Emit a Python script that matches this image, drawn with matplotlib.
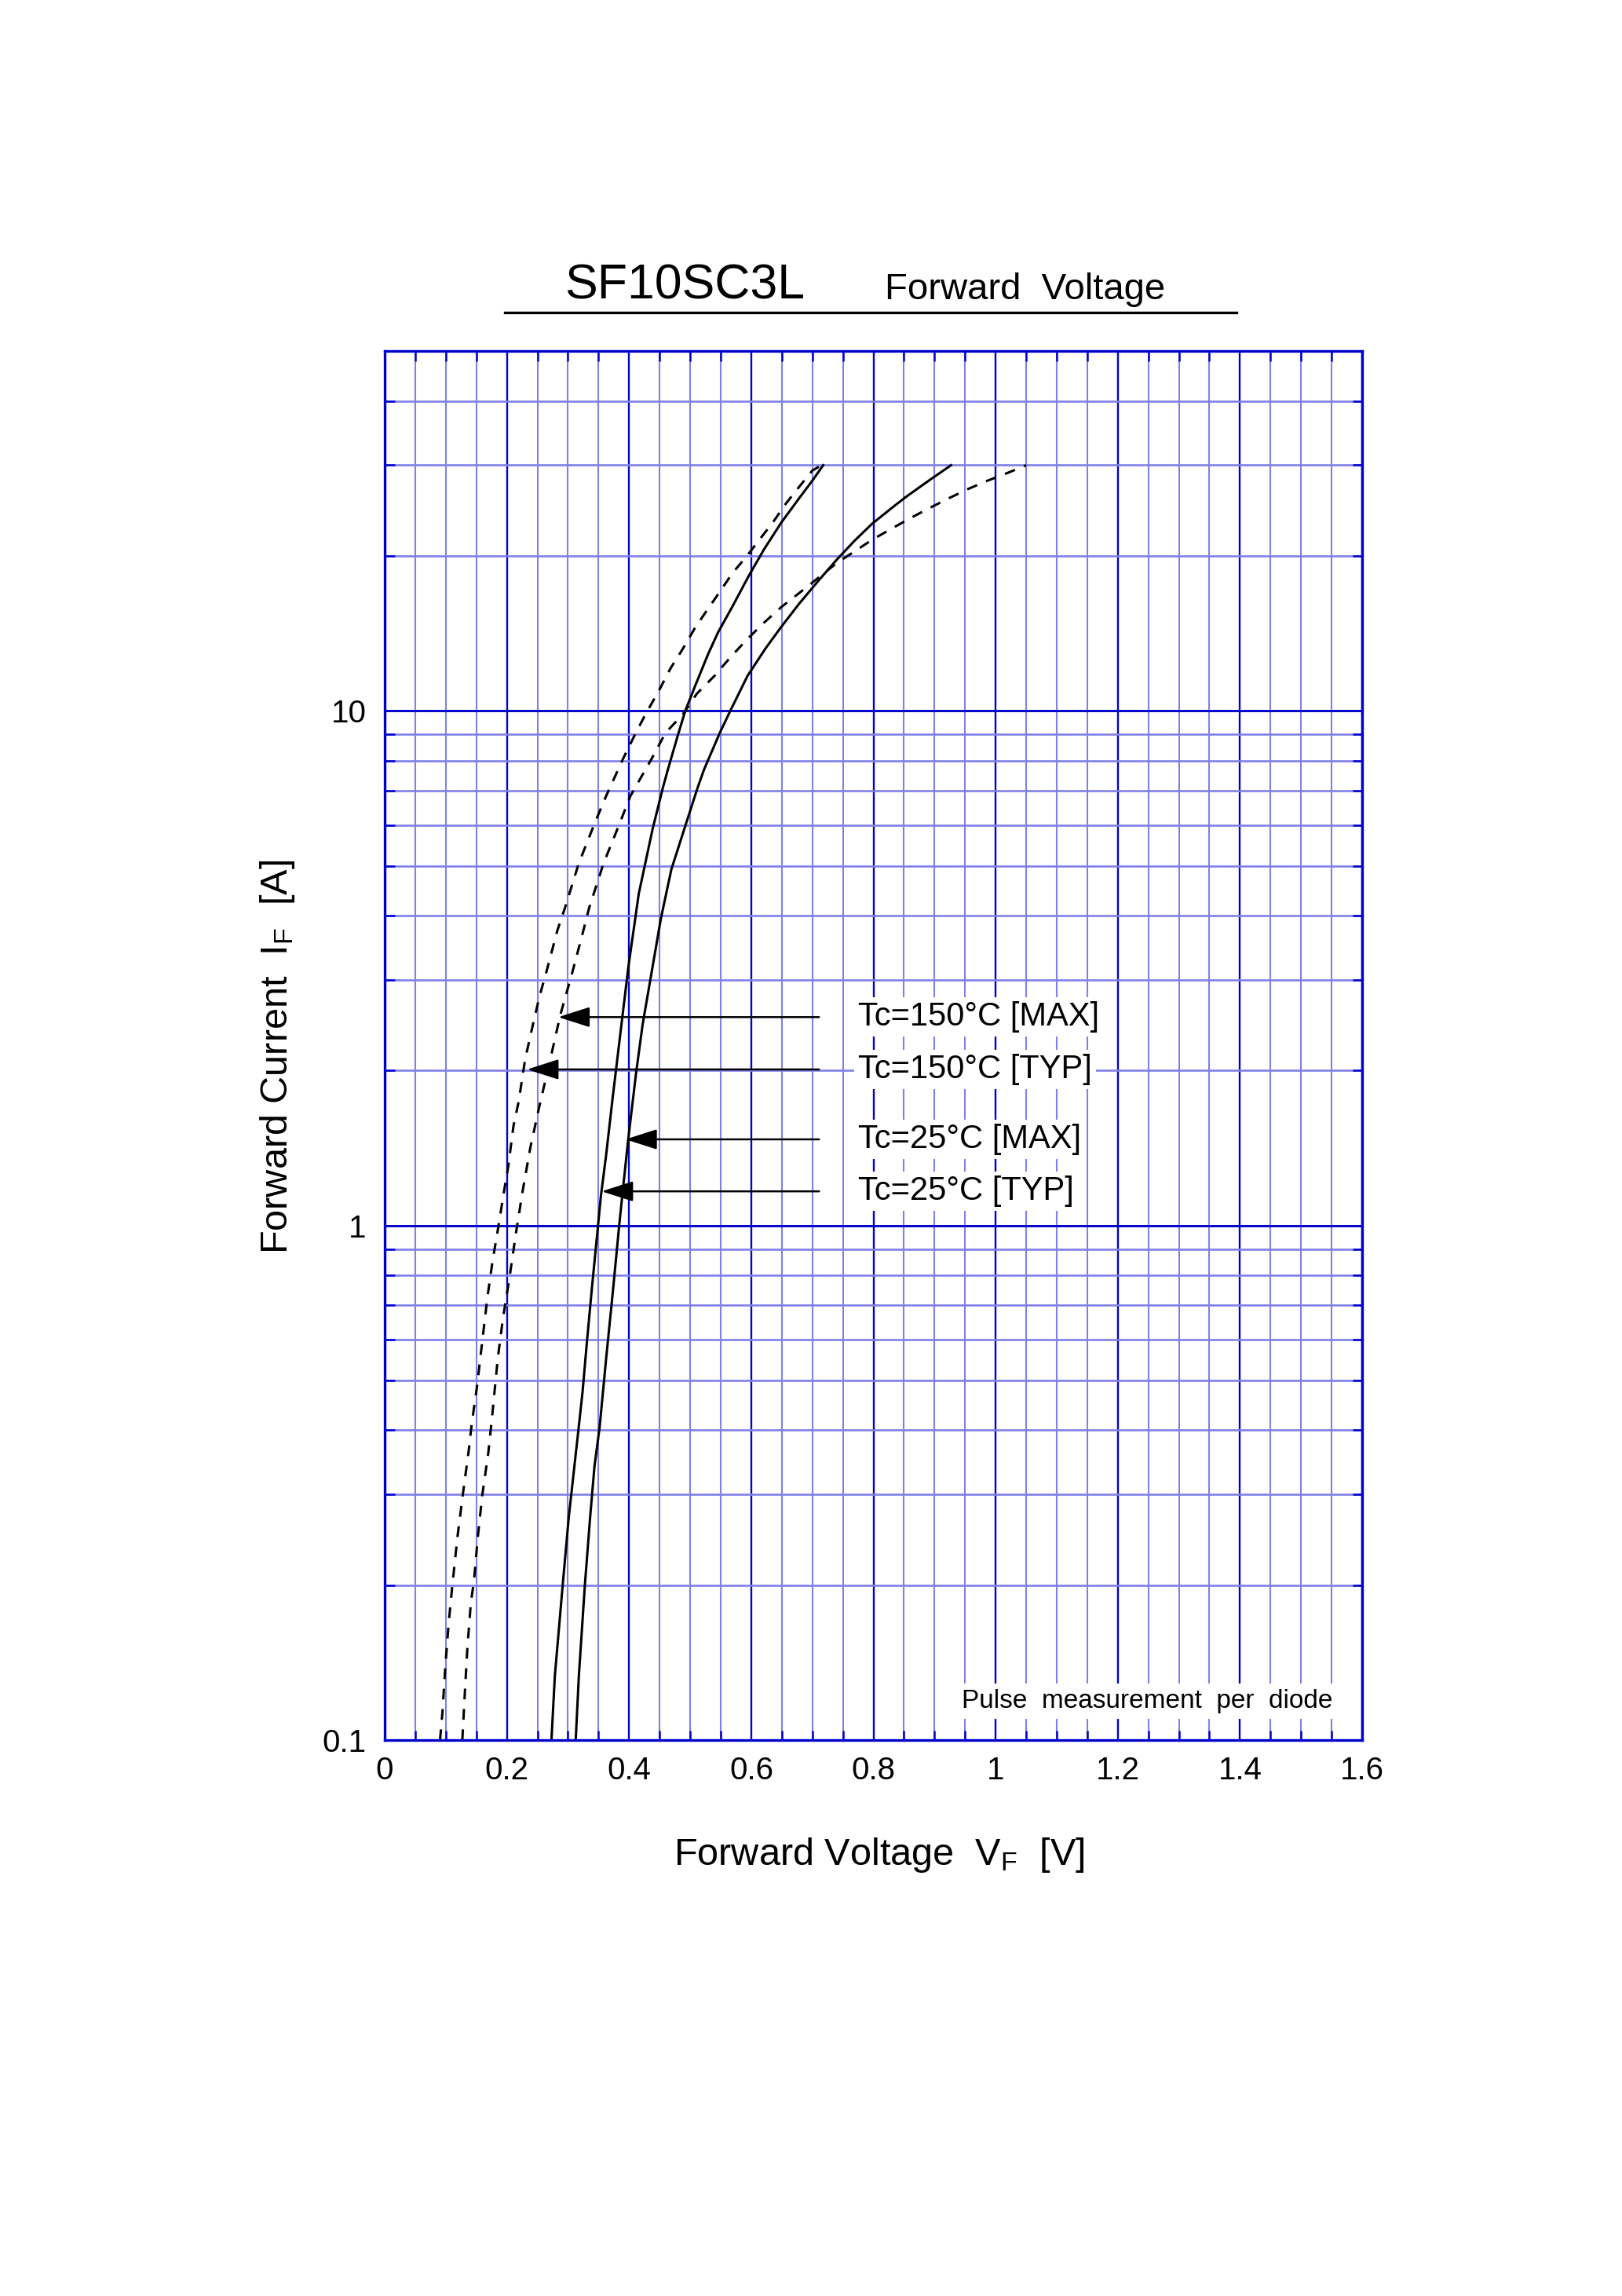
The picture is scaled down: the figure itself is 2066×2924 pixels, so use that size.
import numpy as np
import matplotlib
matplotlib.use("Agg")
import matplotlib.pyplot as plt
from matplotlib.lines import Line2D
from matplotlib.ticker import MultipleLocator, LogLocator, NullFormatter

plt.rcParams["font.family"] = ["Liberation Sans", "DejaVu Sans"]
plt.rcParams["mathtext.default"] = "regular"

DARK = "#0000CC"
LIGHT = "#8080E8"

# Tc=150C TYP (dashed, left)
i_150_typ = [0.1, 0.113, 0.138, 0.169, 0.2, 0.249, 0.3, 0.366, 0.411, 0.485,
             0.592, 0.724, 0.853, 0.978, 1.174, 1.30, 1.56, 1.74, 2.105, 2.46,
             2.79, 3.09, 3.74, 4.14, 5.05, 6.06, 6.83, 8.1, 9.06, 9.9,
             10.9, 12.1, 13.2, 14.5, 15.9, 17.2, 18.5, 19.9, 21.4, 23.2,
             25.3, 27.2, 29.3, 30]
v_150_typ = [0.0905, 0.0944, 0.099, 0.1047, 0.1107, 0.1192, 0.1278, 0.1376, 0.1423, 0.1509,
             0.1594, 0.168, 0.1765, 0.185, 0.1957, 0.2021, 0.2107, 0.2192, 0.2299, 0.2427,
             0.2534, 0.264, 0.2825, 0.295, 0.3175, 0.344, 0.3624, 0.3908, 0.411, 0.428,
             0.448, 0.468, 0.488, 0.508, 0.531, 0.551, 0.569, 0.5915, 0.612, 0.635,
             0.657, 0.678, 0.700, 0.715]

# Tc=150C MAX (dashed, right)
i_150_max = [0.1, 0.124, 0.152, 0.185, 0.204, 0.249, 0.3, 0.362, 0.434, 0.551,
             0.661, 0.793, 0.97, 1.164, 1.42, 1.71, 2.09, 2.57, 3.03, 3.61,
             4.14, 5.05, 6.01, 6.83, 8.06, 9.06, 9.84, 10.8, 11.7, 12.7,
             13.8, 14.8, 15.9, 16.9, 18.1, 19.4, 20.4, 21.5, 22.6, 23.7,
             24.7, 25.9, 27.0, 28.0, 29.0, 30]
v_150_max = [0.127, 0.1312, 0.1354, 0.141, 0.1461, 0.1525, 0.1598, 0.1696, 0.1765, 0.185,
             0.1936, 0.2043, 0.215, 0.2256, 0.2385, 0.2534, 0.2705, 0.2876, 0.3047, 0.3218,
             0.3346, 0.3581, 0.3838, 0.4021, 0.4367, 0.4596, 0.488, 0.511, 0.540, 0.5657,
             0.594, 0.620, 0.649, 0.6775, 0.709, 0.7406, 0.769, 0.798, 0.830, 0.861,
             0.8897, 0.924, 0.9556, 0.987, 1.0200, 1.050]

# Tc=25C TYP (solid, left)
i_25_typ = [0.1, 0.1335, 0.2, 0.27, 0.341, 0.405, 0.476, 0.582, 0.751, 0.952,
            1.14, 1.37, 1.77, 2.37, 3.17, 4.41, 5.9, 7.08, 7.69, 9.06,
            10, 11.2, 12.9, 14.2, 15.9, 18.3, 20.6, 23.2, 25.8, 28.0, 30]
v_25_typ = [0.2729, 0.2785, 0.2913, 0.3011, 0.3105, 0.3175, 0.3239, 0.3303, 0.3389, 0.3474,
            0.3538, 0.3624, 0.3731, 0.3859, 0.3987, 0.4158, 0.4386, 0.4552, 0.4635, 0.4810,
            0.4920, 0.5084, 0.5295, 0.5456, 0.5686, 0.596, 0.621, 0.649, 0.6775, 0.700, 0.7177]

# Tc=25C MAX (solid, right)
i_25_max = [0.1, 0.1335, 0.2, 0.27, 0.341, 0.405, 0.551, 0.737, 1.0, 1.185,
            1.475, 1.98, 2.46, 3.12, 3.95, 4.92, 6.01, 7.08, 7.69, 9.06,
            10, 11.7, 13.2, 14.5, 16.1, 17.9, 19.7, 21.4, 23.1, 24.7,
            26.0, 28.0, 30]
v_25_max = [0.3126, 0.3178, 0.3276, 0.3361, 0.3434, 0.3517, 0.3624, 0.3731, 0.3838, 0.3902,
            0.3987, 0.4115, 0.4222, 0.4372, 0.4521, 0.4692, 0.4927, 0.512, 0.5227, 0.5485,
            0.5657, 0.594, 0.623, 0.648, 0.6775, 0.710, 0.7406, 0.769, 0.798, 0.8285,
            0.8525, 0.8905, 0.927]

# annotation labels, arrow heights and arrow tips
labels = ["Tc=150°C [MAX]", "Tc=150°C [TYP]", "Tc=25°C [MAX]", "Tc=25°C [TYP]"]
label_i = [2.54, 2.01, 1.47, 1.165]
tip_v = [0.284, 0.233, 0.394, 0.355]
tail_v = 0.711
text_v = 0.775

x_ticks = [0, 0.2, 0.4, 0.6, 0.8, 1.0, 1.2, 1.4, 1.6]
x_tick_labels = ["0", "0.2", "0.4", "0.6", "0.8", "1", "1.2", "1.4", "1.6"]
y_ticks = [0.1, 1, 10]
y_tick_labels = ["0.1", "1", "10"]


fig = plt.figure(figsize=(20.66, 29.24), dpi=100)
ax = fig.add_axes([0.2372, 0.2421, 0.6026, 0.6050])

ax.set_yscale("log")
ax.set_xlim(0, 1.6)
ax.set_ylim(0.1, 50)

ax.set_xticks(x_ticks, x_tick_labels)
ax.xaxis.set_minor_locator(MultipleLocator(0.05))
ax.set_yticks(y_ticks, y_tick_labels)
ax.yaxis.set_minor_locator(LogLocator(base=10, subs=np.arange(2, 10)))
ax.yaxis.set_minor_formatter(NullFormatter())

ax.set_axisbelow(True)
ax.xaxis.grid(True, which="minor", color=LIGHT, lw=1.5)
ax.xaxis.grid(True, which="major", color=DARK, lw=1.7)
ax.yaxis.grid(True, which="minor", color=LIGHT, lw=1.9)
ax.yaxis.grid(True, which="major", color=DARK, lw=2.1)

ax.tick_params(which="both", direction="in", top=True, right=True, color=DARK)
ax.tick_params(which="major", length=0, labelsize=29)
ax.tick_params(which="minor", length=9, width=1.8)
ax.tick_params(axis="x", which="major", pad=14)
ax.tick_params(axis="y", which="major", pad=17)

for sp in ax.spines.values():
    sp.set_color(DARK)
    sp.set_linewidth(2.4)

ax.plot(v_150_typ, i_150_typ, color="black", lw=2.2, ls=(0, (4.5, 4.0)))
ax.plot(v_150_max, i_150_max, color="black", lw=2.2, ls=(0, (4.5, 4.0)))
ax.plot(v_25_typ, i_25_typ, color="black", lw=2.2)
ax.plot(v_25_max, i_25_max, color="black", lw=2.2)

for lab, yi, tv in zip(labels, label_i, tip_v):
    ax.annotate("", xy=(tv, yi), xytext=(tail_v, yi),
                arrowprops=dict(arrowstyle="-|>,head_length=1.25,head_width=0.4",
                                color="black", lw=1.8, mutation_scale=20,
                                shrinkA=0, shrinkB=0))
    ax.text(text_v, yi, lab, fontsize=30, ha="left", va="center",
            bbox=dict(boxstyle="square,pad=0.12", fc="white", ec="none"))

ax.text(1.551, 0.1155, "Pulse  measurement  per  diode", fontsize=24,
        ha="right", va="baseline",
        bbox=dict(boxstyle="square,pad=0.2", fc="white", ec="none"))

ax.set_xlabel("Forward Voltage  V$_F$  [V]", fontsize=35)
ax.xaxis.set_label_coords(0.506, -0.0899)
ax.xaxis.label.set_va("baseline")

ax.set_ylabel("Forward Current  I$_F$  [A]", fontsize=35)
ax.yaxis.set_label_coords(-0.110, 0.492)
ax.yaxis.label.set_va("center")

# title block
fig.text(0.348, 0.8697, "SF10SC3L", fontsize=45, ha="left", va="baseline")
fig.text(0.5455, 0.8697, "Forward  Voltage", fontsize=34, ha="left", va="baseline")
fig.add_artist(Line2D([0.3112, 0.7623], [0.8639, 0.8639], color="black", lw=2.4))

fig.savefig("out.png", dpi=100)
